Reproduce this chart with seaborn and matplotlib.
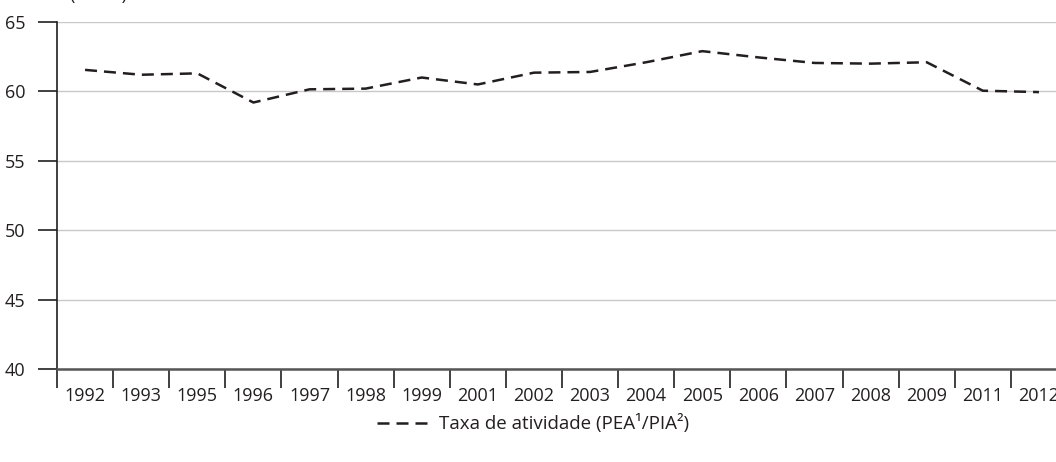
import matplotlib
matplotlib.use("Agg")
import matplotlib.pyplot as plt
import seaborn as sns
import pandas as pd
import numpy as np

# dados
anos = ["1992", "1993", "1995", "1996", "1997", "1998", "1999", "2001", "2002",
        "2003", "2004", "2005", "2006", "2007", "2008", "2009", "2011", "2012"]
taxa = [61.55, 61.2, 61.3, 59.2, 60.15, 60.2, 61.0, 60.5, 61.35,
        61.4, 62.1, 62.9, 62.45, 62.05, 62.0, 62.1, 60.05, 59.95]
yticks = [40, 45, 50, 55, 60, 65]
rotulo = "Taxa de atividade (PEA\u00b9/PIA\u00b2)"

df = pd.DataFrame({"ano": anos, "taxa": taxa})

sns.set_style("white")
plt.rcParams["font.family"] = ["Open Sans", "DejaVu Sans"]

fig = plt.figure(figsize=(10.56, 4.62), dpi=100)
# o eixo passa um pouco da borda direita, como na figura original
ax = fig.add_axes([57 / 1056, 93 / 462, 1010 / 1056, 347 / 462])

sns.lineplot(data=df, x="ano", y="taxa", ax=ax, color="#231f20",
             linewidth=1.8, dashes=False, label=rotulo, sort=False)
ax.lines[0].set_dashes([4.8, 2.8])

ax.set_xlim(-0.5, len(anos) - 0.5)
ax.set_ylim(40, 65)
ax.set_yticks(yticks)
ax.set_xlabel("")
ax.set_ylabel("")

# ticks do eixo x nas divisas entre categorias
ax.set_xticks(np.arange(len(anos)))
ax.set_xticklabels(anos)
ax.set_xticks(np.arange(len(anos) + 1) - 0.5, minor=True)
ax.tick_params(axis="x", which="major", bottom=True, length=0, pad=13,
               labelsize=13, colors="#231f20")
ax.tick_params(axis="x", which="minor", bottom=True, length=14, width=1.2,
               color="#231f20", direction="out")
ax.tick_params(axis="y", left=True, length=14, width=1.2, color="#231f20",
               labelsize=13, labelcolor="#231f20", pad=9, direction="out")

ax.grid(axis="y", color="#c8c8c8", linewidth=1)
ax.set_axisbelow(True)
for s in ["top", "right"]:
    ax.spines[s].set_visible(False)
ax.spines["left"].set_color("#231f20")
ax.spines["left"].set_linewidth(1.2)
ax.spines["bottom"].set_color("#555555")
ax.spines["bottom"].set_linewidth(1.8)

leg = ax.legend(loc="center", bbox_to_anchor=(533 / 1056, 38 / 462),
                bbox_transform=fig.transFigure, frameon=False, fontsize=13.5,
                handlelength=3.0, handletextpad=0.35)
for t in leg.get_texts():
    t.set_color("#231f20")

# unidade no topo (cortada na figura original)
fig.text(70 / 1056, 1.0, "(Em %)", fontsize=13, color="#231f20", va="baseline")

fig.savefig("out.png", dpi=100)
